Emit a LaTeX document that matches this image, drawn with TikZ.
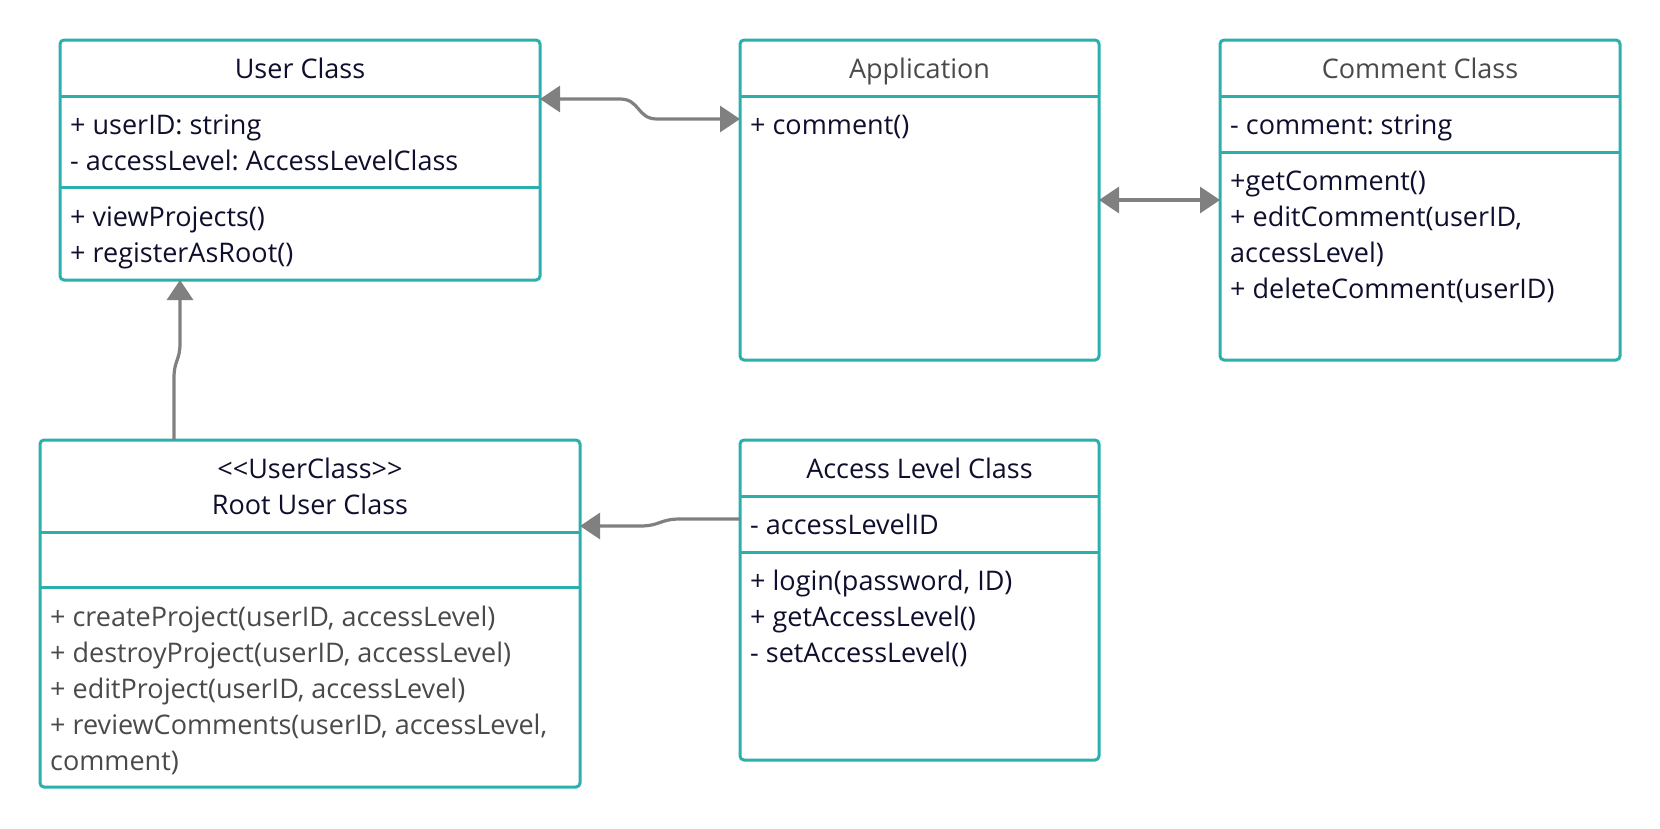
\documentclass[tikz,border=0pt]{standalone}
\usepackage{fontspec}
\setmainfont{Open Sans}
\frenchspacing
\usetikzlibrary{arrows.meta}
\definecolor{teal2}{HTML}{2BB0AE}
\definecolor{ink}{HTML}{0F0F2D}
\definecolor{greytxt}{HTML}{4A4A4A}
\definecolor{conng}{HTML}{808080}
\begin{document}
\begin{tikzpicture}[x=1pt,y=-1pt,
  cls/.style={draw=teal2, line width=3pt, rounded corners=4pt, inner sep=0pt, outer sep=0pt, fill=white},
  div/.style={draw=teal2, line width=3pt},
  txt/.style={anchor=base west, inner sep=0pt, font=\fontsize{27}{36}\selectfont, text=ink},
  hdr/.style={anchor=base, inner sep=0pt, font=\fontsize{27}{36}\selectfont, text=ink},
  gtxt/.style={text=greytxt},
  conn/.style={draw=conng, line width=3.2pt},
  both/.style={arrows={Triangle[length=20pt,width=26pt]-Triangle[length=20pt,width=26pt]}},
  endarr/.style={arrows={-Triangle[length=20pt,width=26pt]}}
]
\useasboundingbox (0,0) rectangle (1660,828);

% boxes
\node[cls, minimum width=480pt, minimum height=240pt] (user) at (300,160) {};
\node[cls, minimum width=359pt, minimum height=320pt] (app) at (919.5,200) {};
\node[cls, minimum width=400pt, minimum height=320pt] (comment) at (1420,200) {};
\node[cls, minimum width=540pt, minimum height=347pt] (root) at (310,613.5) {};
\node[cls, minimum width=359pt, minimum height=320pt] (access) at (919.5,600) {};

% dividers
\draw[div] (user.west |- 0,96) -- (user.east |- 0,96);
\draw[div] (user.west |- 0,187) -- (user.east |- 0,187);
\draw[div] (app.west |- 0,96) -- (app.east |- 0,96);
\draw[div] (comment.west |- 0,96) -- (comment.east |- 0,96);
\draw[div] (comment.west |- 0,152) -- (comment.east |- 0,152);
\draw[div] (root.west |- 0,532) -- (root.east |- 0,532);
\draw[div] (root.west |- 0,587) -- (root.east |- 0,587);
\draw[div] (access.west |- 0,496) -- (access.east |- 0,496);
\draw[div] (access.west |- 0,552) -- (access.east |- 0,552);

% User Class
\node[hdr] (userT) at (300,78) {User Class};
\node[txt] (userA1) at (70,134) {+ userID: string};
\node[txt] (userA2) at (70,170) {- accessLevel: AccessLevelClass};
\node[txt] (userM1) at (70,226) {+ viewProjects()};
\node[txt] (userM2) at (70,262) {+ registerAsRoot()};

% Application
\node[hdr, gtxt] (appT) at (919.5,78) {Application};
\node[txt] (appA1) at (750,134) {+ comment()};

% Comment Class
\node[hdr, gtxt] (comT) at (1420,78) {Comment Class};
\node[txt] (comA1) at (1230,134) {- comment: string};
\node[txt] (comM1) at (1230,190) {+getComment()};
\node[txt] (comM2) at (1230,226) {+ editComment(userID,};
\node[txt] (comM3) at (1230,262) {accessLevel)};
\node[txt] (comM4) at (1230,298) {+ deleteComment(userID)};

% Root User Class
\node[hdr] (rootS) at (310,478) {<{}<UserClass>{}>};
\node[hdr] (rootT) at (310,514) {Root User Class};
\node[txt, gtxt] (rootM1) at (50,626) {+ createProject(userID, accessLevel)};
\node[txt, gtxt] (rootM2) at (50,662) {+ destroyProject(userID, accessLevel)};
\node[txt, gtxt] (rootM3) at (50,698) {+ editProject(userID, accessLevel)};
\node[txt, gtxt] (rootM4) at (50,734) {+ reviewComments(userID, accessLevel,};
\node[txt, gtxt] (rootM5) at (50,770) {comment)};

% Access Level Class
\node[hdr] (accT) at (919.5,478) {Access Level Class};
\node[txt] (accA1) at (750,534) {- accessLevelID};
\node[txt] (accM1) at (750,590) {+ login(password, ID)};
\node[txt] (accM2) at (750,626) {+ getAccessLevel()};
\node[txt] (accM3) at (750,662) {- setAccessLevel()};

% connectors
\draw[conn, both] (user.east |- 0,99) -- (620,99) .. controls (640,99) and (637,119) .. (657,119) -- (app.west |- 0,119);
\draw[conn, both] (app.east |- 0,200) -- (comment.west |- 0,200);
\draw[conn, endarr] (root.north -| 174,0) -- (174,378) .. controls (174,360) and (180,361) .. (180,343) -- (user.south -| 180,0);
\draw[conn, endarr] (access.west |- 0,519) -- (680,519) .. controls (660,519) and (660,526) .. (640,526) -- (root.east |- 0,526);
\end{tikzpicture}
\end{document}
